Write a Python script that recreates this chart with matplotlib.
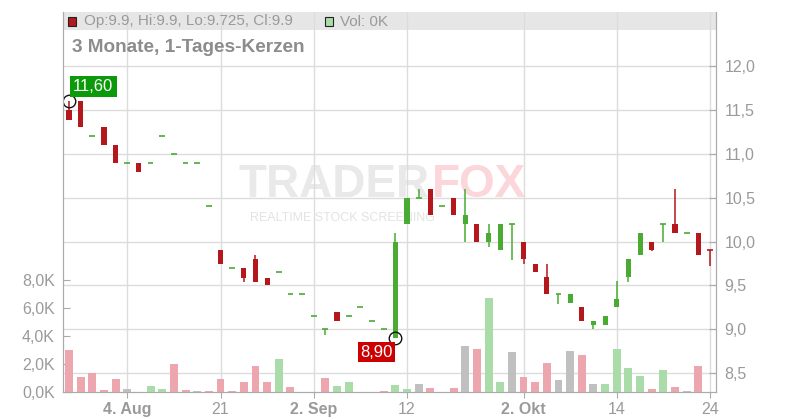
import matplotlib
matplotlib.use("Agg")
import matplotlib.pyplot as plt
from matplotlib.patches import Rectangle

plt.rcParams['font.family'] = ['Liberation Sans', 'DejaVu Sans']

# daily candles (open, high, low, close), one per trading day
opens = [11.50, 11.60, 11.20, 11.30, 11.10, 10.90, 10.90, 10.90, 11.20, 11.00,
         10.90, 10.90, 10.40, 9.90, 9.70, 9.70, 9.80, 9.59, 9.65, 9.40,
         9.40, 9.15, 9.00, 9.20, 9.15, 9.25, 9.10, 9.00, 8.90, 10.20,
         10.50, 10.60, 10.40, 10.50, 10.20, 10.20, 10.00, 9.90, 10.20, 10.00,
         9.75, 9.60, 9.40, 9.30, 9.25, 9.05, 9.05, 9.25, 9.60, 9.85,
         10.00, 10.20, 10.20, 10.10, 10.10, 9.90]
highs = [11.60, 11.60, 11.20, 11.30, 11.10, 10.90, 10.90, 10.90, 11.20, 11.00,
         10.90, 10.90, 10.40, 9.90, 9.70, 9.70, 9.85, 9.59, 9.65, 9.40,
         9.40, 9.15, 9.00, 9.20, 9.15, 9.25, 9.10, 9.00, 10.10, 10.50,
         10.60, 10.60, 10.40, 10.50, 10.60, 10.20, 10.20, 10.20, 10.20, 10.00,
         9.75, 9.75, 9.40, 9.40, 9.25, 9.10, 9.15, 9.55, 9.80, 10.10,
         10.00, 10.20, 10.60, 10.10, 10.10, 9.90]
lows = [11.38, 11.30, 11.20, 11.10, 10.90, 10.90, 10.79, 10.90, 11.20, 11.00,
        10.90, 10.90, 10.40, 9.75, 9.70, 9.54, 9.54, 9.50, 9.65, 9.40,
        9.40, 9.15, 8.94, 9.10, 9.15, 9.25, 9.10, 9.00, 8.90, 10.20,
        10.50, 10.30, 10.40, 10.30, 10.00, 10.00, 9.94, 9.90, 9.79, 9.75,
        9.65, 9.40, 9.29, 9.30, 9.10, 9.00, 9.05, 9.25, 9.54, 9.85,
        9.89, 10.00, 10.10, 10.10, 9.85, 9.725]
closes = [11.38, 11.30, 11.20, 11.10, 10.90, 10.90, 10.79, 10.90, 11.20, 11.00,
          10.90, 10.90, 10.40, 9.75, 9.70, 9.59, 9.54, 9.50, 9.65, 9.40,
          9.40, 9.15, 9.00, 9.10, 9.15, 9.25, 9.10, 9.00, 10.00, 10.50,
          10.50, 10.30, 10.40, 10.30, 10.30, 10.00, 10.10, 10.20, 10.20, 9.80,
          9.65, 9.40, 9.40, 9.40, 9.10, 9.10, 9.15, 9.35, 9.80, 10.10,
          9.90, 10.20, 10.10, 10.10, 9.85, 9.90]
# volume in thousand shares
volumes = [3.02, 1.09, 1.38, 0.16, 0.95, 0.24, 0.0, 0.45, 0.24, 2.02,
           0.16, 0.10, 0.10, 0.95, 0.08, 0.74, 1.88, 0.74, 2.38, 0.38,
           0.0, 0.0, 1.02, 0.45, 0.74, 0.0, 0.0, 0.10, 0.52, 0.24,
           0.60, 0.31, 0.0, 0.31, 3.30, 3.09, 6.74, 0.74, 2.88, 1.09,
           0.74, 2.09, 0.88, 2.95, 2.66, 0.60, 0.60, 3.09, 1.74, 1.17,
           0.24, 1.59, 0.38, 0.10, 1.88, 0.0]

tick_pos = [5, 13, 21, 29, 39, 47, 55]
tick_labels = ['4. Aug', '21', '2. Sep', '12', '2. Okt', '14', '24']
month_ticks = ['4. Aug', '2. Sep', '2. Okt']
price_ticks = [8.5, 9.0, 9.5, 10.0, 10.5, 11.0, 11.5, 12.0]
vol_ticks = [0, 2, 4, 6, 8]

RED = '#b4181c'
GREEN = '#4aab33'
V_RED = '#eea6ae'
V_GREEN = '#aadcaa'
V_GRAY = '#c0c0c0'
TXT = '#9a9a9a'

fig = plt.figure(figsize=(8, 4.2), dpi=100)
ax = fig.add_axes([63/800, 28/420, 653/800, 380/420])
axv = ax.twinx()

n = len(closes)
x = list(range(n))

# candles
for i in x:
    o, h, l, c = opens[i], highs[i], lows[i], closes[i]
    col = RED if c < o else GREEN
    if i == n - 1:
        col = RED  # current (live) candle
    ax.vlines(i, l, h, color=col, lw=1.1, zorder=3)
    if c == o:
        ax.hlines(c, i - 0.25, i + 0.25, color=col, lw=1.2, zorder=3)
    else:
        ax.bar(i, abs(c - o), bottom=min(o, c), width=0.44, color=col, zorder=3)

# volume bars, coloured by change of close
vcols = []
for i in x:
    if i == 0:
        d = closes[0] - opens[0]
    else:
        d = round(closes[i] - closes[i - 1], 4)
    vcols.append(V_GREEN if d > 0 else (V_RED if d < 0 else V_GRAY))
axv.bar(x, volumes, width=0.68, color=vcols, zorder=2)

ax.set_xlim(-0.515, n - 1 + 0.515)
ax.set_ylim(8.287, 12.615)
axv.set_ylim(0, 27.14)

# price axis on the right
ax.yaxis.tick_right()
ax.set_yticks(price_ticks)
ax.set_yticklabels([('%.1f' % p).replace('.', ',') for p in price_ticks])
ax.tick_params(axis='y', direction='in', length=5, color='#aaaaaa', labelcolor=TXT,
               labelsize=11.5, pad=6)
axv.yaxis.tick_left()
axv.set_yticks(vol_ticks)
axv.set_yticklabels([('%.1fK' % v).replace('.', ',') for v in vol_ticks])
axv.tick_params(axis='y', direction='in', length=5, color='#aaaaaa', labelcolor=TXT,
                labelsize=11.5, pad=6)

ax.set_xticks(tick_pos)
ax.set_xticklabels(tick_labels)
for lab in ax.get_xticklabels():
    if lab.get_text() in month_ticks:
        lab.set_fontweight('bold')
ax.tick_params(axis='x', direction='out', length=4, color='#aaaaaa', labelcolor=TXT,
               labelsize=11.5, pad=3)

ax.set_axisbelow(True)
ax.grid(True, color='#dcdcdc', lw=1)

for a in (ax, axv):
    a.spines['top'].set_visible(False)
    for s in ('left', 'right', 'bottom'):
        a.spines[s].set_color('#aaaaaa')

# legend band
ax.add_patch(Rectangle((0, 1 - 18/380), 1, 18/380, transform=ax.transAxes,
                       facecolor='#e6e6e6', edgecolor='none', zorder=0.2, clip_on=False))
ax.add_patch(Rectangle((5/653, 1 - 14/380), 8/653, 9/380, transform=ax.transAxes,
                       facecolor=RED, edgecolor='#222222', lw=0.8, zorder=1))
ax.text(21/653, 1 - 9.5/380, 'Op:%.1f, Hi:%.1f, Lo:%.3f, Cl:%.1f' % (opens[-1], highs[-1], lows[-1], closes[-1]),
        transform=ax.transAxes, va='center', ha='left', color=TXT, fontsize=11, zorder=1)
ax.add_patch(Rectangle((262/653, 1 - 14/380), 8/653, 9/380, transform=ax.transAxes,
                       facecolor=V_GREEN, edgecolor='#222222', lw=0.8, zorder=1))
ax.text(277/653, 1 - 9.5/380, 'Vol: %dK' % volumes[-1], transform=ax.transAxes,
        va='center', ha='left', color=TXT, fontsize=11, zorder=1)

fig.text(72/800, 1 - 47/420, '3 Monate, 1-Tages-Kerzen', fontsize=13.7, fontweight='bold',
         color='#8c8c8c', va='center', ha='left')

# watermark
ax.text(0.268, 0.545, 'TRADER', transform=ax.transAxes, fontsize=33, fontweight='bold',
        color='#e9e9e9', va='center', ha='left', zorder=0.3)
ax.text(0.565, 0.545, 'FOX', transform=ax.transAxes, fontsize=33, fontweight='bold',
        color='#fbd7db', va='center', ha='left', zorder=0.3)
ax.text(0.287, 0.458, 'REALTIME STOCK SCREENING', transform=ax.transAxes,
        fontsize=9, color='#e3e3e3', va='center', ha='left', zorder=0.3)

# max / min markers
imax = highs.index(max(highs))
imin = lows.index(min(lows))
ax.plot(imax, highs[imax], 'o', ms=9, mfc='none', mec='#111111', mew=1, zorder=5)
ax.plot(imin, lows[imin], 'o', ms=9, mfc='none', mec='#111111', mew=1, zorder=5)
ax.annotate(('%.2f' % highs[imax]).replace('.', ','), (imax, highs[imax]),
            xytext=(4, 7), textcoords='offset pixels', color='white', fontsize=12,
            ha='left', va='bottom',
            bbox=dict(boxstyle='square,pad=0.2', fc='#0a9a0a', ec='none'), zorder=6)
ax.annotate(('%.2f' % lows[imin]).replace('.', ','), (imin, lows[imin]),
            xytext=(-35, -14), textcoords='offset pixels', color='white', fontsize=12,
            ha='left', va='center',
            bbox=dict(boxstyle='square,pad=0.15', fc='#cc0000', ec='none'), zorder=6)

fig.savefig('out.png', dpi=100)
